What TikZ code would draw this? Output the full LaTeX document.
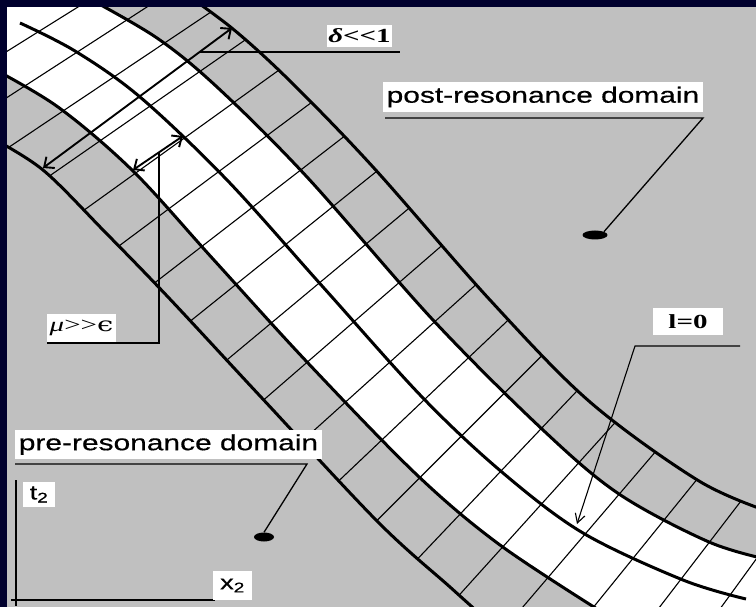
\documentclass[tikz,border=0pt]{standalone}
\usepackage{fontspec}
\usepackage{graphicx}
\usetikzlibrary{arrows.meta,shapes.geometric}
\newfontfamily\lsans[FakeStretch=1.36,FakeBold=0.6]{Liberation Sans}
\newfontfamily\lserif[FakeStretch=1.45]{Liberation Serif}
\newfontfamily\dvserif[FakeStretch=1.45]{DejaVu Serif}
\definecolor{bggray}{RGB}{192,192,192}
\definecolor{navyb}{RGB}{0,0,46}
% curve point lists (pixel coordinates, y downwards)
\def\ptsA{-- plot[smooth,tension=0.55] coordinates {(180,-10) (233,29) (290,81) (373,167) (490,300) (590,402) (699,481) (770,512)}}
\def\ptsB{-- plot[smooth,tension=0.55] coordinates {(88,-2) (157,38) (217,87) (307,177) (433,320) (543,430) (619,494) (709,542) (770,560)}}
\def\ptsC{-- plot[smooth,tension=0.55] coordinates {(20,23) (75,51) (140,97) (227,180) (323,287) (423,398) (503,473) (583,533) (683,580) (746,599)}}
\def\ptsD{-- plot[smooth,tension=0.55] coordinates {(-10,67) (58,107) (133,171) (213,259) (307,362) (417,475) (500,545) (605,614)}}
\def\ptsE{-- plot[smooth,tension=0.55] coordinates {(-10,137) (43,170) (105,232) (168,297) (260,396) (378,522) (450,587) (480,614)}}
\begin{document}
\begin{tikzpicture}[x=1pt,y=-1pt,
  thickcurve/.style={line width=3pt,line join=round},
  gridline/.style={line width=1.1pt,black},
  leader/.style={line width=1.3pt},
  dblarrow/.style={line width=1.9pt,{Straight Barb[length=8pt,width=14pt]}-{Straight Barb[length=8pt,width=14pt]}},
  thinarrow/.style={line width=1.1pt,-{Straight Barb[length=9pt,width=10pt]}},
  lab/.style={fill=white,inner sep=0pt,outer sep=0pt,text=black},
  dot/.style={ellipse,fill=black,inner sep=0pt,minimum height=9pt},
  axisline/.style={line width=2.2pt}]
\useasboundingbox (0,0) rectangle (756,607);
\fill[bggray] (0,0) rectangle (756,607);
% band: white part and grid
\begin{scope}
  \clip (-20,-20) -- (-10,137) \ptsE -- (790,640) -- (790,-20) -- cycle;
  \clip (-20,640) -- (-20,-20) -- (180,-10) \ptsA -- (790,640) -- cycle;
  \begin{scope}
    \clip (-20,640) -- (-20,-20) -- (88,-2) \ptsB -- (790,640) -- cycle;
    \fill[white] (-20,-20) -- (-10,67) \ptsD -- (790,640) -- (790,-20) -- cycle;
  \end{scope}
  \foreach \px/\py/\pa in {37.8/32.1/32.0, 76.9/52.3/32.9, 115/76.2/33.8, 150/106.1/34.8,
      184.3/138.1/35.7, 218.6/171.7/36.7, 251.8/207.8/37.7, 285.4/244.7/38.8,
      319.4/282.9/39.8, 354.3/321.4/40.9, 390/362/42.0, 424.5/399.5/43.5,
      461.3/436.2/45.0, 501/471/46.5, 541.5/504/47.9, 585.1/534.1/49.5,
      632/559.6/51.0, 681/579.2/52.5, 730.6/594.3/54.0}
    {\draw[gridline] (\px,\py) ++(\pa:230pt) -- ++(\pa:-460pt);}
\end{scope}
% thick curves
\draw[thickcurve] (180,-10) \ptsA;
\draw[thickcurve] (88,-2) \ptsB;
\draw[thickcurve] (20,23) \ptsC;
\draw[thickcurve] (-10,67) \ptsD;
\draw[thickcurve] (-10,137) \ptsE;
% delta arrow and label
\coordinate (d1) at (43,168);
\coordinate (d2) at (232,28);
\coordinate (dl) at (200,52);
\coordinate (dr) at (400,52);
\draw[dblarrow] (d1) -- (d2);
\draw[leader] (dl) -- (dr);
\node[lab,minimum width=65pt,minimum height=22pt] (dlab) at (359.5,36) {\lserif\bfseries\fontsize{20}{22}\selectfont{\itshape δ}<<1};
% mu arrow and label
\coordinate (m1) at (133,170);
\coordinate (m2) at (183,136);
\coordinate (mtop) at (159,153);
\coordinate (mcorner) at (159,343);
\coordinate (mend) at (47,343);
\draw[dblarrow] (m1) -- (m2);
\draw[leader] (mtop) -- (mcorner) -- (mend);
\node[lab,minimum width=69pt,minimum height=28pt] (mlab) at (81.5,328) {\lserif\fontsize{20}{22}\selectfont{\itshape μ}>>{\dvserif ϵ}};
% post-resonance
\node[dot,minimum width=25pt] (postdot) at (595,235) {};
\node[lab,minimum width=320pt,minimum height=30pt] (postlab) at (543,97) {\lsans\fontsize{22}{24}\selectfont post-resonance domain};
\coordinate (pu1) at (385,118);
\coordinate (pu2) at (703,118);
\draw[leader] (pu1) -- (pu2) -- (postdot.north east);
% pre-resonance
\node[dot,minimum width=20pt] (predot) at (264,537) {};
\node[lab,minimum width=307pt,minimum height=29pt] (prelab) at (168.5,444.5) {\lsans\fontsize{22}{24}\selectfont pre-resonance domain};
\coordinate (qu1) at (15,464);
\coordinate (qu2) at (307,464);
\draw[leader] (qu1) -- (qu2) -- (predot.north);
% l=0
\node[lab,minimum width=70pt,minimum height=27pt] (llab) at (688,321.5) {\lserif\bfseries\fontsize{20}{22}\selectfont l=0};
\coordinate (l1) at (740,346);
\coordinate (l2) at (635,346);
\coordinate (ltip) at (577,524);
\draw[thinarrow] (l1) -- (l2) -- (ltip);
% axes
\coordinate (ay) at (16,480);
\coordinate (ayb) at (16,606);
\coordinate (axl) at (11,600);
\coordinate (axr) at (215,600);
\draw[axisline] (ay) -- (ayb);
\draw[axisline] (axl) -- (axr);
\node[lab,minimum width=32pt,minimum height=25pt] (tlab) at (39,494.5) {\lsans\fontsize{20}{22}\selectfont t\textsubscript{2}};
\node[lab,minimum width=39pt,minimum height=29pt] (xlab) at (232.5,585.5) {\lsans\fontsize{20}{22}\selectfont x\textsubscript{2}};
% slide border
\fill[navyb] (0,0) rectangle (756,7);
\fill[navyb] (0,0) rectangle (7,607);
\end{tikzpicture}
\end{document}
